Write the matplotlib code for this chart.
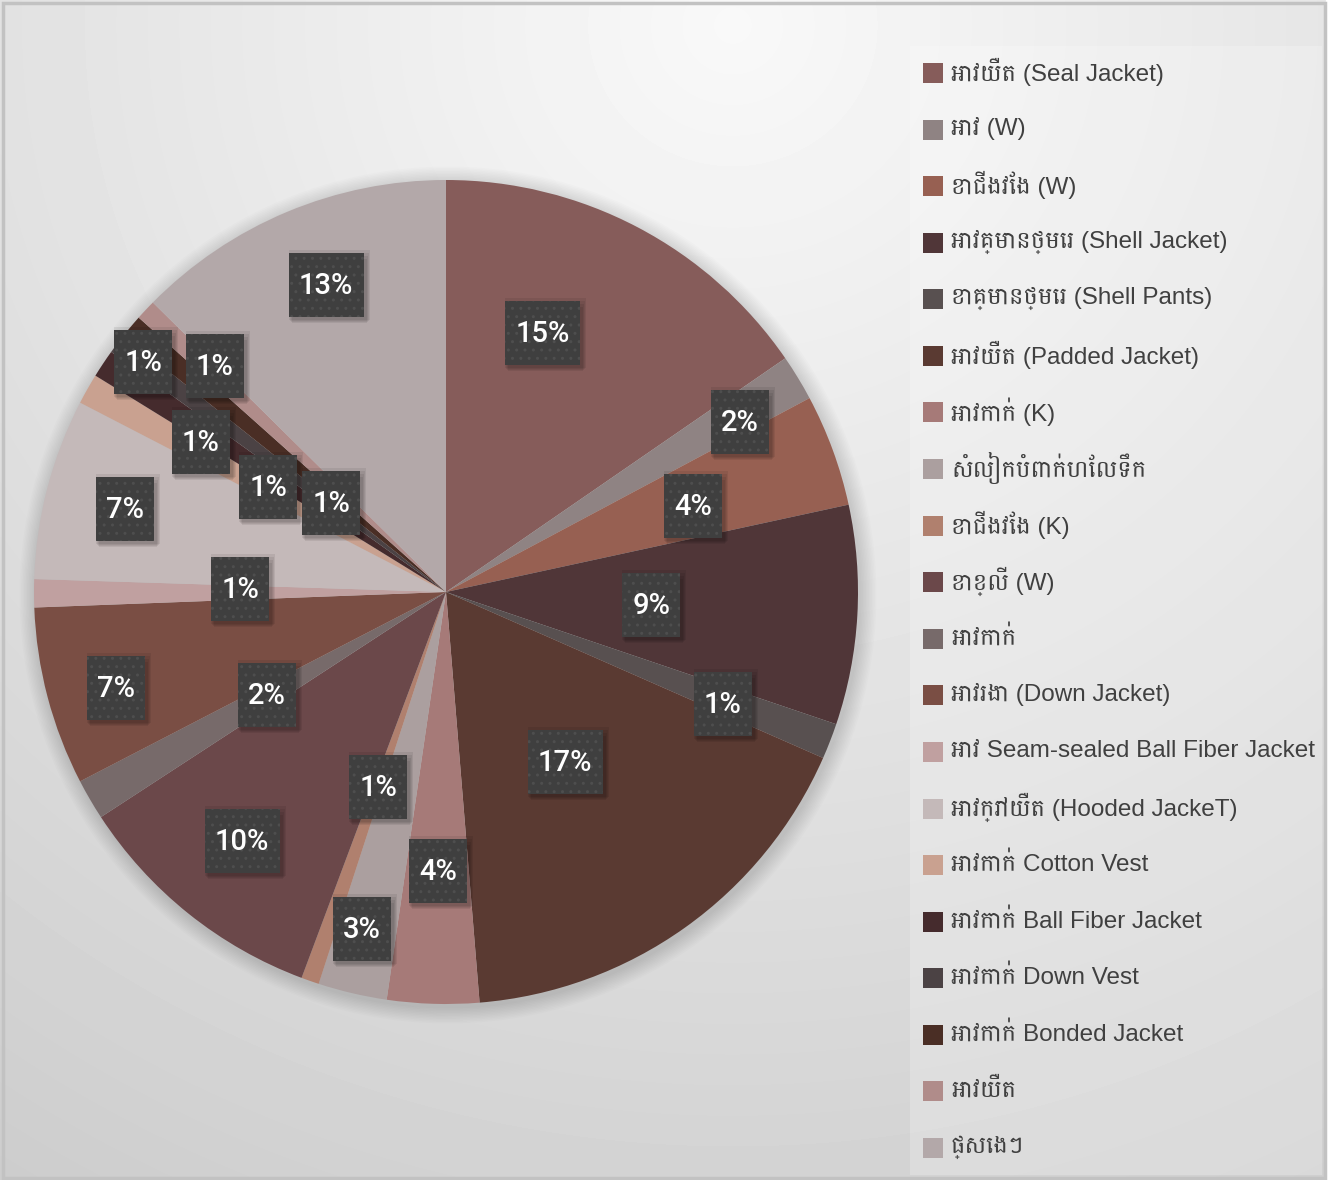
import numpy as np
import matplotlib
matplotlib.use("Agg")
import matplotlib.pyplot as plt
from matplotlib.patches import Rectangle, Circle

# ---- data ----
labels = ["អាវយឺត (Seal Jacket)", "អាវ (W)", "ខោជើងវែង (W)", "អាវគ្មានថ្មេរ (Shell Jacket)",
          "ខោគ្មានថ្មេរ (Shell Pants)", "អាវយឺត (Padded Jacket)", "អាវកាក់ (K)",
          "សំលៀកបំពាក់ហែលទឹក", "ខោជើងវែង (K)", "ខោខ្លី (W)", "អាវកាក់",
          "អាវរងា (Down Jacket)", "អាវ Seam-sealed Ball Fiber Jacket",
          "អាវក្រៅយឺត (Hooded JackeT)", "អាវកាក់ Cotton Vest", "អាវកាក់ Ball Fiber Jacket",
          "អាវកាក់ Down Vest", "អាវកាក់ Bonded Jacket", "អាវយឺត", "ផ្សេងៗ"]
shares = [15.4, 1.8, 4.4, 8.6, 1.4, 17.1, 3.6, 2.7, 0.7, 10.1,
          1.6, 7.0, 1.1, 7.1, 1.2, 1.1, 0.8, 0.9, 0.8, 12.6]
colors = ["#865c5a", "#8f8383", "#976052", "#503638", "#585050", "#5a3a32", "#a67a78",
          "#ab9f9f", "#b0806e", "#6b484a", "#776a6a", "#7a4e44", "#c0a0a0", "#c4b9b9",
          "#c9a190", "#452b2d", "#4b4244", "#4a2e25", "#b08c8a", "#b3a8a9"]

# where excel dropped each percentage box (pie radius = 1)
label_xy = [(0.235, 0.629), (0.714, 0.413), (0.600, 0.209), (0.498, -0.032), (0.672, -0.272),
            (0.289, -0.413), (-0.019, -0.677), (-0.204, -0.818), (-0.165, -0.473), (-0.495, -0.604),
            (-0.434, -0.250), (-0.801, -0.233), (-0.500, 0.007), (-0.779, 0.201), (-0.735, 0.558),
            (-0.561, 0.549), (-0.595, 0.364), (-0.432, 0.255), (-0.279, 0.216), (-0.291, 0.745)]

W, H = 1333, 1180
fig = plt.figure(figsize=(W / 100, H / 100), dpi=100)
fam = ["Liberation Sans", "Battambang", "DejaVu Sans"]

# background gradient + frame
bg = fig.add_axes([0, 0, 1, 1])
yy, xx = np.mgrid[0:1:300j, 0:1:300j]
d = np.sqrt(((xx - 0.55) * 1.1) ** 2 + (yy - 0.02) ** 2)
v = np.clip(0.975 - 0.15 * d, 0, 1)
bg.imshow(v, cmap="gray", vmin=0, vmax=1, extent=(0, W, H, 0), aspect="auto", interpolation="bicubic")
bg.set_xlim(0, W)
bg.set_ylim(H, 0)
bg.axis("off")
bg.add_patch(Rectangle((1326, 0), 7, H, color="white", zorder=2))
bg.add_patch(Rectangle((3, 3), 1322, 1175, fill=False, ec="#c2c2c2", lw=2.5, zorder=3))
# legend panel
bg.add_patch(Rectangle((910, 46), 412, 1129, color="white", alpha=0.22, lw=0, zorder=2))

# pie
cx, cy, R = 446, 592, 412
ax = fig.add_axes([(cx - R) / W, (H - cy - R) / H, 2 * R / W, 2 * R / H])
ax.patch.set_alpha(0)
px = 1 / R
# soft outer shadow
for k in range(1, 12):
    ax.add_patch(Circle((2 * px, -3 * px), 1 + k * 1.5 * px, color="black", alpha=0.012,
                        lw=0, zorder=0, clip_on=False))
wedges, _ = ax.pie(shares, colors=colors, startangle=90, counterclock=False, radius=1,
                   wedgeprops=dict(lw=0, zorder=1))
ax.set_xlim(-1, 1)
ax.set_ylim(-1, 1)
ax.set_aspect("auto")
ax.axis("off")

total = sum(shares)
for (lx, ly), s in zip(label_xy, shares):
    txt = "%.0f%%" % (100 * s / total)
    bw, bh = (24 + 17 * len(txt)) * px, 64 * px
    for k in range(4):
        ax.add_patch(Rectangle((lx - bw / 2 + (3 - k) * px, ly - bh / 2 - (6 - k) * px),
                               bw + 2 * k * px, bh + 2 * k * px,
                               color="black", alpha=0.07, lw=0, zorder=4))
    ax.add_patch(Rectangle((lx - bw / 2, ly - bh / 2), bw, bh, facecolor="#3f3f3f",
                           edgecolor="#4e4e4e", hatch="..", lw=0, zorder=5))
    ax.text(lx, ly - 1 * px, txt, color="white", fontsize=21, family=["Roboto", "Liberation Sans"],
            weight="medium", ha="center", va="center", zorder=6)

# legend
for i, (lab, c) in enumerate(zip(labels, colors)):
    y = 72 + i * 56.58
    bg.add_patch(Rectangle((923, y - 9), 20, 20, color=c, lw=0, zorder=4))
    bg.text(951, y, lab, color="#404040", fontsize=17.5, family=fam,
            ha="left", va="center", zorder=4)

fig.savefig("out.png", dpi=100)
